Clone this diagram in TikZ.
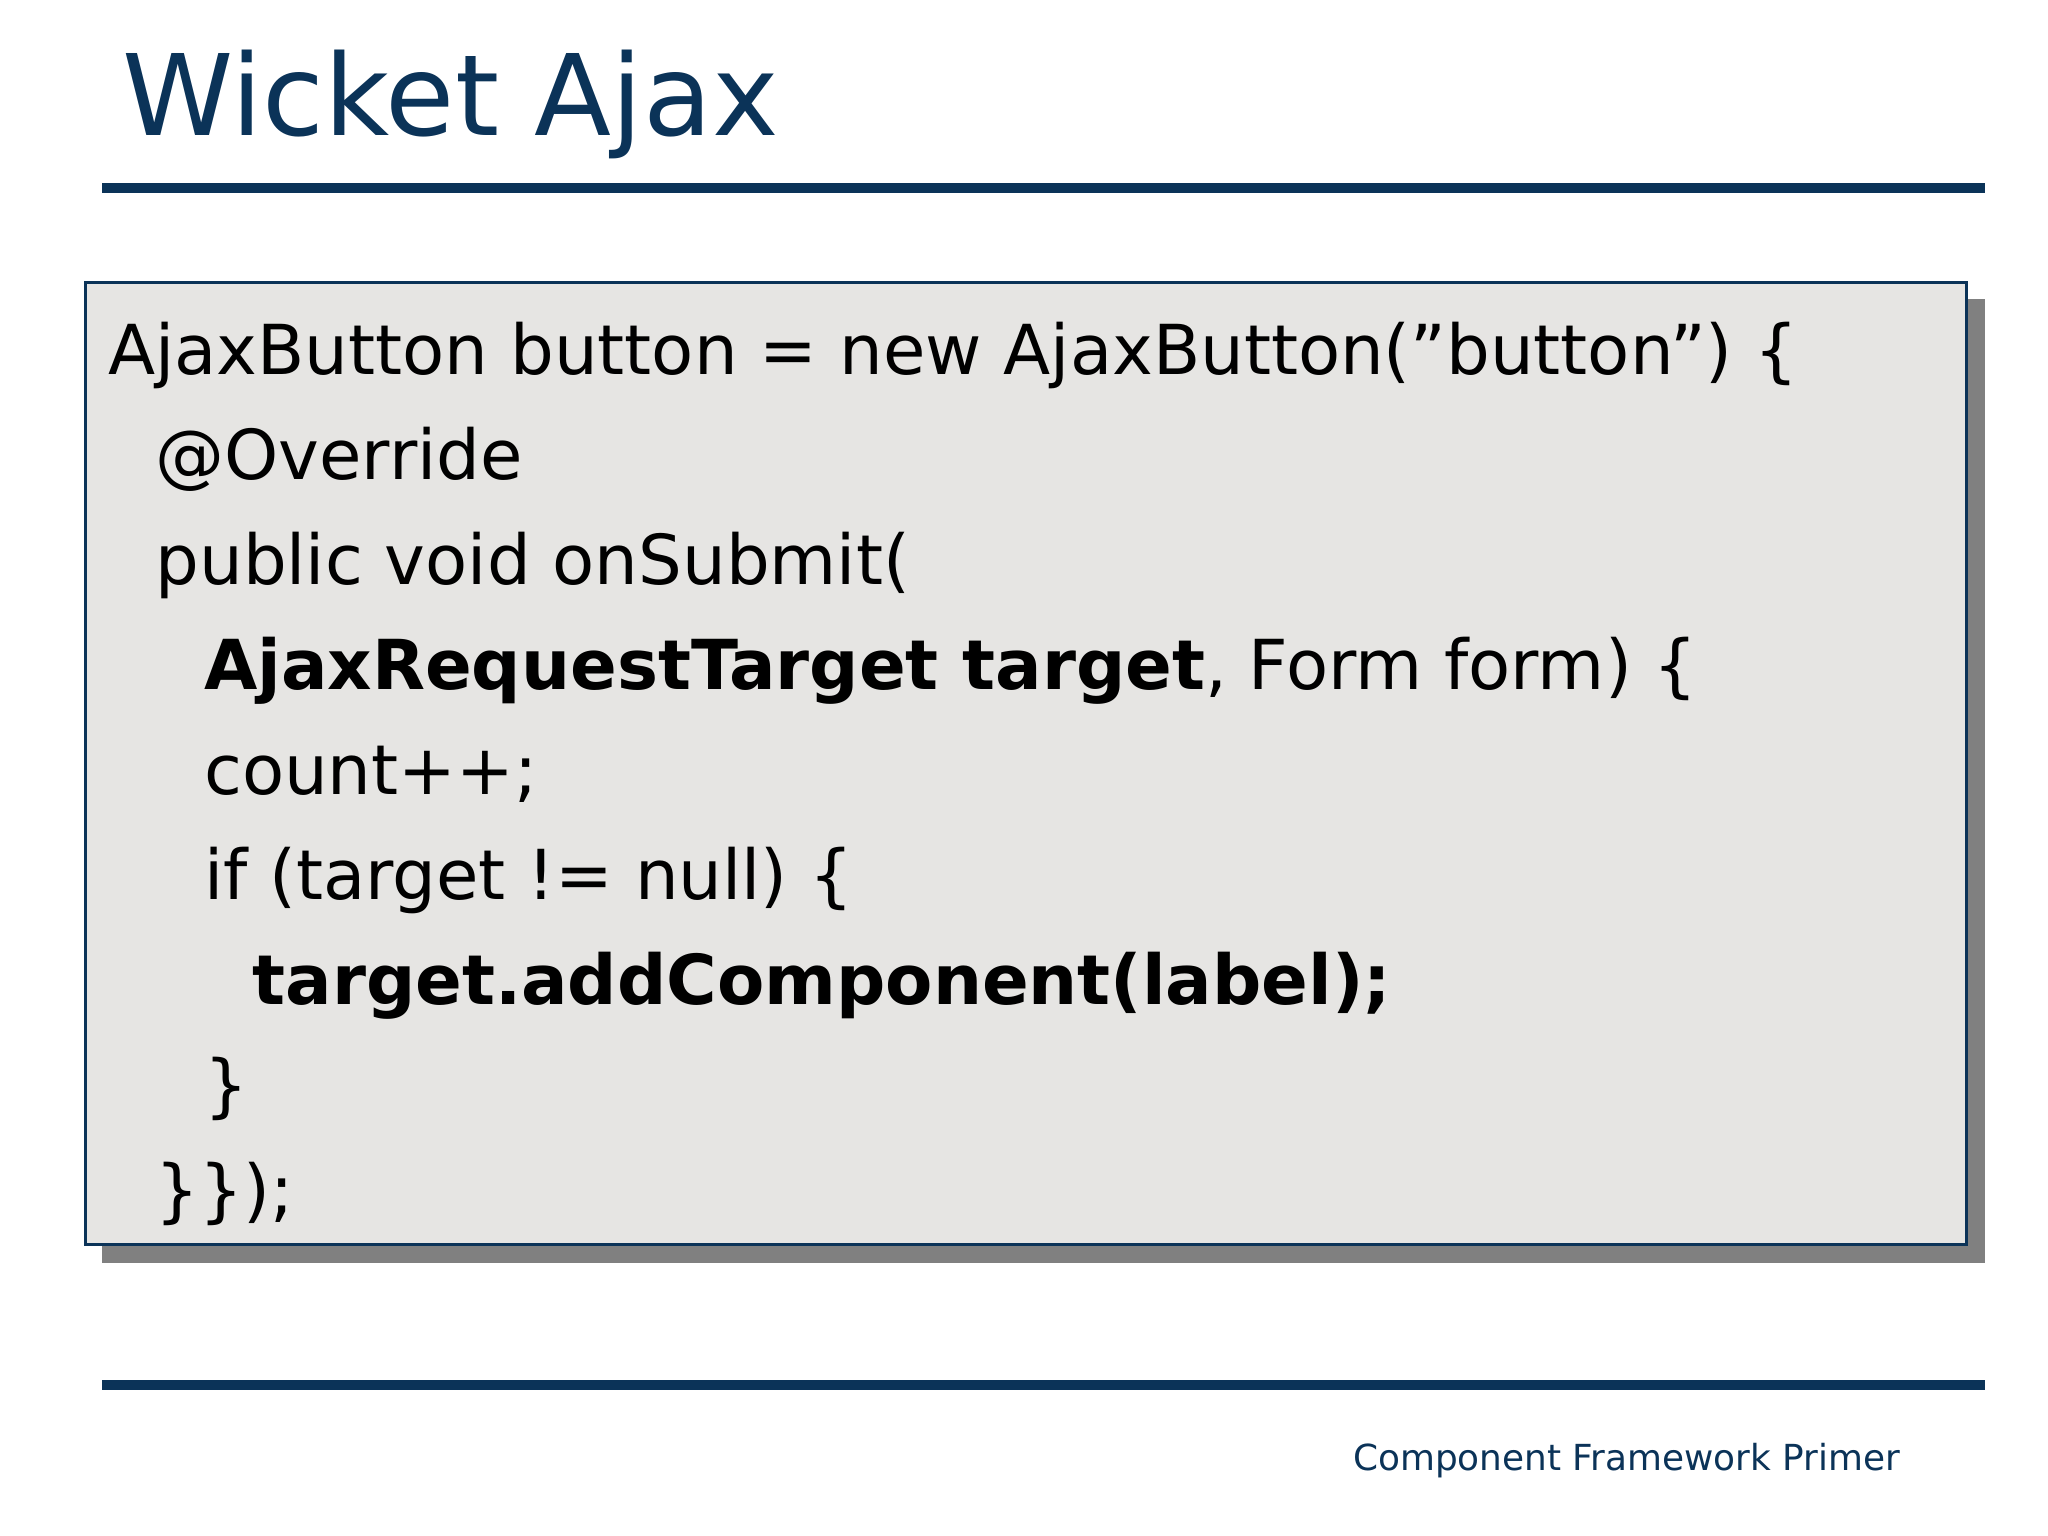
\documentclass[tikz,border=0pt]{standalone}
\usepackage{fontspec}
\setmainfont{DejaVu Sans}[Ligatures=ResetAll]
\definecolor{navy}{HTML}{0B3358}
\definecolor{boxfill}{HTML}{E6E5E3}
\begin{document}
\begin{tikzpicture}[x=0.013128cm,y=-0.013128cm,
  code/.style={anchor=base west,inner sep=0pt,font=\fontsize{19.6}{24}\selectfont,text=black},
  rule/.style={draw=navy,line width=2.8pt}]
\useasboundingbox (0,0) rectangle (1560,1170);
\node[anchor=base west,inner sep=0pt,text=navy,font=\fontsize{32}{38}\selectfont] (title) at (93,103) {Wicket Ajax};
\coordinate (t1) at (78,143); \coordinate (t2) at (1512,143);
\draw[rule] (t1) -- (t2);
\fill[black!50] (78,228) rectangle (1512,962);
\draw[navy,fill=boxfill,line width=0.8pt] (65,215) rectangle (1498,948);
\node[code] (l1) at (82,285) {AjaxButton button = new AjaxButton("button") \{};
\node[code] (l2) at (118,365) {@Override};
\node[code] (l3) at (118,445) {public void onSubmit(};
\node[code] (l4) at (155,525) {\textbf{AjaxRequestTarget target}, Form form) \{};
\node[code] (l5) at (155,605) {count++;};
\node[code] (l6) at (155,685) {if (target != null) \{};
\node[code] (l7) at (192,765) {\textbf{target.addComponent(label);}};
\node[code] (l8) at (155,845) {\}};
\node[code] (l9) at (118,925) {\}\});};
\coordinate (b1) at (78,1055); \coordinate (b2) at (1512,1055);
\draw[rule] (b1) -- (b2);
\node[anchor=base east,inner sep=0pt,text=navy,font=\fontsize{10.2}{12}\selectfont] (foot) at (1448,1120) {Component Framework Primer};
\end{tikzpicture}
\end{document}
